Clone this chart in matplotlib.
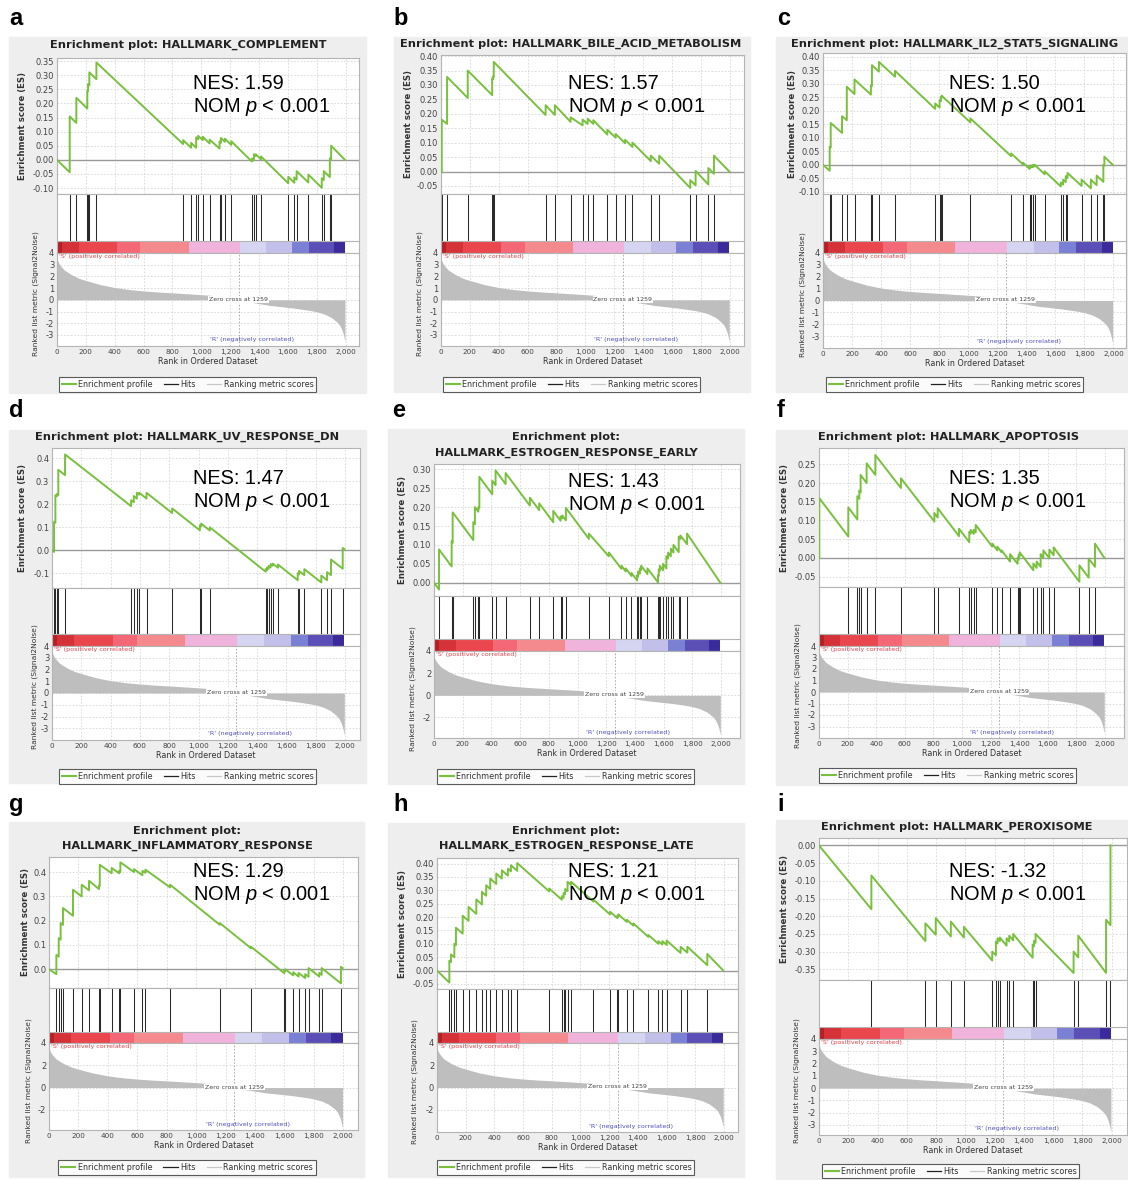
import numpy as np
import matplotlib
matplotlib.use("Agg")
import matplotlib.pyplot as plt
from matplotlib.lines import Line2D
from matplotlib.patches import Rectangle

plt.rcParams["font.family"] = ["DejaVu Sans"]
plt.rcParams["axes.unicode_minus"] = False
plt.rcParams["mathtext.fontset"] = "custom"
plt.rcParams["mathtext.rm"] = "Liberation Sans"
plt.rcParams["mathtext.it"] = "Liberation Sans:italic"

W, H = 1128, 1180

# ---- data ----
letters = ["a", "b", "c", "d", "e", "f", "g", "h", "i"]
gene_sets = ["HALLMARK_COMPLEMENT", "HALLMARK_BILE_ACID_METABOLISM",
             "HALLMARK_IL2_STAT5_SIGNALING", "HALLMARK_UV_RESPONSE_DN",
             "HALLMARK_ESTROGEN_RESPONSE_EARLY", "HALLMARK_APOPTOSIS",
             "HALLMARK_INFLAMMATORY_RESPONSE", "HALLMARK_ESTROGEN_RESPONSE_LATE",
             "HALLMARK_PEROXISOME"]
nes_values = ["1.59", "1.57", "1.50", "1.47", "1.43", "1.35", "1.29", "1.21", "-1.32"]

# ranked list metric (same ordered dataset in every panel)
metric_rank = [0, 10, 25, 50, 100, 150, 200, 300, 400, 500, 600, 700, 800, 900,
               1000, 1050, 1100, 1150, 1200, 1240, 1258, 1260, 1300, 1400, 1470,
               1550, 1650, 1750, 1800, 1850, 1900, 1940, 1960, 1975, 1985, 1995]
metric_val = [3.5, 3.2, 2.9, 2.55, 2.15, 1.85, 1.65, 1.3, 1.05, 0.88, 0.76, 0.67,
              0.6, 0.52, 0.44, 0.4, 0.35, 0.3, 0.22, 0.12, 0.02, -0.02, -0.12,
              -0.32, -0.47, -0.58, -0.72, -0.9, -1.02, -1.2, -1.5, -1.9, -2.2,
              -2.6, -3.0, -3.6]

# colour bar segments (rank boundaries)
cbar_edges = [0, 35, 150, 414, 578, 911, 1265, 1450, 1628, 1746, 1919, 1995]
cbar_colors = ["#b81f25", "#d43238", "#e9474d", "#f46777", "#f58a8e", "#efb3dc",
               "#d5d5f1", "#c3bfeb", "#7a80d3", "#5b4fb7", "#3a2a9c"]

hits_a = [88, 134, 210, 215, 224, 273, 874, 929, 964, 978, 1010, 1057, 1126, 1135,
          1163, 1207, 1350, 1364, 1376, 1413, 1602, 1644, 1660, 1741, 1834, 1848,
          1890, 1899]
es_a = [(0, 0), (88, -0.044), (88, 0.154), (134, 0.131), (134, 0.22), (210, 0.182),
        (210, 0.245), (215, 0.243), (215, 0.268), (224, 0.264), (224, 0.31),
        (273, 0.286), (273, 0.345), (874, 0.056), (874, 0.07), (929, 0.043),
        (929, 0.06), (964, 0.043), (964, 0.08), (978, 0.073), (978, 0.085),
        (1010, 0.07), (1010, 0.082), (1057, 0.058), (1057, 0.072), (1126, 0.04),
        (1126, 0.065), (1135, 0.06), (1135, 0.078), (1163, 0.064), (1163, 0.075),
        (1207, 0.053), (1207, 0.066), (1350, -0.006), (1350, 0.005), (1364, -0.002),
        (1364, 0.02), (1376, 0.014), (1376, 0.02), (1413, 0.002), (1413, 0.012),
        (1602, -0.083), (1602, -0.06), (1644, -0.081), (1644, -0.062), (1660, -0.07),
        (1660, -0.04), (1741, -0.08), (1741, -0.052), (1834, -0.099), (1834, -0.065),
        (1848, -0.072), (1848, -0.04), (1890, -0.061), (1890, 0.005), (1899, 0.0),
        (1899, 0.05), (1995, 0.0)]

hits_b = [5, 42, 185, 354, 361, 365, 724, 788, 897, 980, 1015, 1054, 1151, 1209,
          1274, 1325, 1452, 1510, 1725, 1762, 1850, 1889]
es_b = [(0, 0), (5, -0.002), (5, 0.18), (42, 0.165), (42, 0.328), (185, 0.255),
        (185, 0.35), (354, 0.265), (354, 0.323), (361, 0.32), (361, 0.33),
        (365, 0.328), (365, 0.38), (724, 0.196), (724, 0.23), (788, 0.196),
        (788, 0.23), (897, 0.172), (897, 0.188), (980, 0.16), (980, 0.18),
        (1015, 0.165), (1015, 0.183), (1054, 0.165), (1054, 0.178), (1151, 0.128),
        (1151, 0.145), (1209, 0.117), (1209, 0.13), (1274, 0.098), (1274, 0.11),
        (1325, 0.085), (1325, 0.1), (1452, 0.036), (1452, 0.055), (1510, 0.027),
        (1510, 0.055), (1725, -0.057), (1725, -0.03), (1762, -0.048), (1762, 0.002),
        (1850, -0.045), (1850, 0.012), (1889, -0.008), (1889, 0.055), (1995, 0.0)]

hits_c = [46, 53, 131, 164, 217, 330, 337, 385, 496, 773, 803, 812, 817, 1015, 1296,
          1377, 1423, 1432, 1446, 1458, 1527, 1638, 1654, 1672, 1684, 1781, 1845,
          1885, 1931, 1938]
es_c = [(0, 0), (46, -0.022), (46, 0.067), (53, 0.064), (53, 0.155), (131, 0.118),
        (131, 0.18), (164, 0.165), (164, 0.289), (217, 0.262), (217, 0.316),
        (330, 0.26), (330, 0.295), (337, 0.292), (337, 0.369), (385, 0.345),
        (385, 0.381), (496, 0.326), (496, 0.348), (773, 0.207), (773, 0.227),
        (803, 0.212), (803, 0.24), (812, 0.236), (812, 0.25), (817, 0.248),
        (817, 0.256), (1015, 0.157), (1015, 0.172), (1296, 0.032), (1296, 0.042),
        (1377, 0.002), (1377, 0.008), (1423, -0.015), (1423, -0.006), (1432, -0.01),
        (1432, -0.002), (1446, -0.009), (1446, 0.0), (1458, -0.006), (1458, 0.0),
        (1527, -0.035), (1527, -0.024), (1638, -0.08), (1638, -0.065), (1654, -0.073),
        (1654, -0.055), (1672, -0.064), (1672, -0.042), (1684, -0.048), (1684, -0.03),
        (1781, -0.078), (1781, -0.055), (1845, -0.087), (1845, -0.055), (1885, -0.075),
        (1885, -0.04), (1931, -0.063), (1931, 0.0), (1938, -0.003), (1938, 0.03),
        (1995, 0.0)]

hits_d = [14, 23, 34, 43, 89, 540, 558, 579, 595, 645, 820, 1009, 1018, 1077, 1458,
          1467, 1478, 1492, 1506, 1542, 1677, 1686, 1722, 1838, 1877, 1904, 1984]
es_d = [(0, 0), (14, -0.007), (14, 0.124), (23, 0.12), (23, 0.24), (34, 0.235),
        (34, 0.245), (43, 0.24), (43, 0.35), (89, 0.327), (89, 0.417), (540, 0.192),
        (540, 0.218), (558, 0.209), (558, 0.236), (579, 0.225), (579, 0.25),
        (595, 0.242), (595, 0.25), (645, 0.225), (645, 0.25), (820, 0.162),
        (820, 0.182), (1009, 0.087), (1009, 0.108), (1018, 0.104), (1018, 0.116),
        (1077, 0.086), (1077, 0.1), (1458, -0.093), (1458, -0.082), (1467, -0.087),
        (1467, -0.075), (1478, -0.081), (1478, -0.068), (1492, -0.075), (1492, -0.06),
        (1506, -0.067), (1506, -0.058), (1542, -0.076), (1542, -0.062), (1677, -0.13),
        (1677, -0.1), (1686, -0.105), (1686, -0.09), (1722, -0.108), (1722, -0.082),
        (1838, -0.14), (1838, -0.11), (1877, -0.13), (1877, -0.095), (1904, -0.108),
        (1904, -0.04), (1984, -0.08), (1984, 0.01), (1995, 0.005)]

hits_e = [35, 123, 130, 274, 285, 309, 316, 406, 429, 499, 668, 733, 831, 882, 893,
          919, 1079, 1218, 1306, 1336, 1376, 1415, 1422, 1434, 1443, 1487, 1561, 1566,
          1573, 1596, 1619, 1631, 1650, 1668, 1705, 1717, 1763]
es_e = [(0, 0), (35, -0.018), (35, 0.088), (123, 0.043), (123, 0.11), (130, 0.106),
        (130, 0.186), (274, 0.113), (274, 0.16), (285, 0.155), (285, 0.2),
        (309, 0.188), (309, 0.2), (316, 0.197), (316, 0.28), (406, 0.234),
        (406, 0.27), (429, 0.258), (429, 0.297), (499, 0.261), (499, 0.29),
        (668, 0.204), (668, 0.225), (733, 0.192), (733, 0.21), (831, 0.16),
        (831, 0.19), (882, 0.164), (882, 0.175), (893, 0.17), (893, 0.178),
        (919, 0.165), (919, 0.198), (1079, 0.116), (1079, 0.13), (1218, 0.07),
        (1218, 0.08), (1306, 0.037), (1306, 0.045), (1336, 0.03), (1336, 0.038),
        (1376, 0.018), (1376, 0.026), (1415, 0.006), (1415, 0.02), (1422, 0.016),
        (1422, 0.03), (1434, 0.024), (1434, 0.038), (1443, 0.033), (1443, 0.045),
        (1487, 0.023), (1487, 0.038), (1561, 0.001), (1561, 0.02), (1566, 0.018),
        (1566, 0.035), (1573, 0.031), (1573, 0.045), (1596, 0.033), (1596, 0.05),
        (1619, 0.038), (1619, 0.07), (1631, 0.064), (1631, 0.08), (1650, 0.07),
        (1650, 0.09), (1668, 0.08), (1668, 0.1), (1705, 0.081), (1705, 0.122),
        (1717, 0.116), (1717, 0.125), (1763, 0.102), (1763, 0.13), (1995, 0.0)]

hits_f = [2, 205, 268, 282, 291, 333, 394, 573, 807, 830, 979, 1051, 1061, 1082, 1096,
          1212, 1247, 1277, 1336, 1389, 1396, 1403, 1499, 1522, 1550, 1569, 1611, 1641,
          1821, 1886, 1930]
es_f = [(0, 0), (2, -0.001), (2, 0.16), (205, 0.057), (205, 0.135), (268, 0.103),
        (268, 0.165), (282, 0.158), (282, 0.18), (291, 0.175), (291, 0.222),
        (333, 0.2), (333, 0.253), (394, 0.222), (394, 0.275), (573, 0.187),
        (573, 0.213), (807, 0.097), (807, 0.12), (830, 0.108), (830, 0.133),
        (979, 0.058), (979, 0.078), (1051, 0.042), (1051, 0.07), (1061, 0.065),
        (1061, 0.075), (1082, 0.064), (1082, 0.075), (1096, 0.068), (1096, 0.088),
        (1212, 0.03), (1212, 0.038), (1247, 0.02), (1247, 0.03), (1277, 0.015),
        (1277, 0.02), (1336, -0.01), (1336, 0.01), (1389, -0.016), (1389, 0.0),
        (1396, -0.004), (1396, 0.008), (1403, 0.004), (1403, 0.015), (1499, -0.033),
        (1499, -0.015), (1522, -0.027), (1522, -0.01), (1550, -0.024), (1550, 0.01),
        (1569, 0.0), (1569, 0.02), (1611, -0.001), (1611, 0.022), (1641, 0.007),
        (1641, 0.028), (1821, -0.064), (1821, -0.02), (1886, -0.053), (1886, -0.002),
        (1930, -0.024), (1930, 0.038), (1995, 0.0)]

hits_g = [50, 66, 79, 95, 163, 222, 272, 340, 345, 426, 476, 485, 578, 635, 655, 823,
          1161, 1372, 1599, 1605, 1660, 1696, 1741, 1764, 1837, 1853, 1984]
es_g = [(0, 0), (50, -0.02), (50, 0.059), (66, 0.052), (66, 0.128), (79, 0.122),
        (79, 0.19), (95, 0.183), (95, 0.252), (163, 0.22), (163, 0.327), (222, 0.3),
        (222, 0.348), (272, 0.325), (272, 0.364), (340, 0.33), (340, 0.345),
        (345, 0.343), (345, 0.43), (426, 0.395), (426, 0.417), (476, 0.395),
        (476, 0.405), (485, 0.4), (485, 0.44), (578, 0.4), (578, 0.412), (635, 0.387),
        (635, 0.405), (655, 0.397), (655, 0.41), (823, 0.337), (823, 0.348),
        (1161, 0.183), (1161, 0.19), (1372, 0.087), (1372, 0.093), (1599, -0.016),
        (1599, -0.005), (1605, -0.008), (1605, 0.0), (1660, -0.025), (1660, -0.012),
        (1696, -0.03), (1696, -0.015), (1741, -0.036), (1741, -0.02), (1764, -0.031),
        (1764, 0.005), (1837, -0.03), (1837, -0.015), (1853, -0.023), (1853, 0.005),
        (1984, -0.058), (1984, 0.01), (1995, 0.005)]

hits_h = [86, 97, 121, 132, 179, 220, 274, 313, 343, 371, 413, 452, 494, 515, 559, 782,
          870, 882, 893, 910, 935, 1090, 1206, 1257, 1264, 1323, 1369, 1473, 1543, 1571,
          1601, 1698, 1745, 1884]
es_h = [(0, 0), (86, -0.045), (86, 0.037), (97, 0.032), (97, 0.06), (121, 0.05),
        (121, 0.1), (132, 0.095), (132, 0.16), (179, 0.138), (179, 0.205),
        (220, 0.186), (220, 0.238), (274, 0.212), (274, 0.266), (313, 0.247),
        (313, 0.294), (343, 0.28), (343, 0.319), (371, 0.305), (371, 0.344),
        (413, 0.324), (413, 0.363), (452, 0.344), (452, 0.375), (494, 0.355),
        (494, 0.381), (515, 0.371), (515, 0.394), (559, 0.373), (559, 0.402),
        (782, 0.296), (782, 0.307), (870, 0.265), (870, 0.278), (882, 0.272),
        (882, 0.29), (893, 0.285), (893, 0.305), (910, 0.297), (910, 0.332),
        (935, 0.32), (935, 0.332), (1090, 0.258), (1090, 0.265), (1206, 0.21),
        (1206, 0.22), (1257, 0.196), (1257, 0.205), (1264, 0.202), (1264, 0.21),
        (1323, 0.182), (1323, 0.19), (1369, 0.168), (1369, 0.176), (1473, 0.126),
        (1473, 0.133), (1543, 0.1), (1543, 0.11), (1571, 0.097), (1571, 0.11),
        (1601, 0.096), (1601, 0.112), (1698, 0.066), (1698, 0.089), (1745, 0.067),
        (1745, 0.089), (1884, 0.02), (1884, 0.062), (1995, 0.0)]

hits_i = [358, 727, 798, 901, 990, 1184, 1209, 1220, 1236, 1282, 1300, 1327, 1460,
          1469, 1480, 1740, 1772, 1962, 1992]
es_i = [(0, 0), (358, -0.18), (358, -0.085), (727, -0.27), (727, -0.22), (798, -0.252),
        (798, -0.205), (901, -0.257), (901, -0.215), (990, -0.26), (990, -0.23),
        (1184, -0.325), (1184, -0.3), (1209, -0.31), (1209, -0.272), (1220, -0.277),
        (1220, -0.262), (1236, -0.27), (1236, -0.26), (1282, -0.283), (1282, -0.262),
        (1300, -0.271), (1300, -0.255), (1327, -0.268), (1327, -0.25), (1460, -0.317),
        (1460, -0.28), (1469, -0.285), (1469, -0.27), (1480, -0.275), (1480, -0.25),
        (1740, -0.36), (1740, -0.3), (1772, -0.316), (1772, -0.255), (1962, -0.36),
        (1962, -0.21), (1992, -0.225), (1992, 0.0)]

all_hits = [hits_a, hits_b, hits_c, hits_d, hits_e, hits_f, hits_g, hits_h, hits_i]
all_es = [es_a, es_b, es_c, es_d, es_e, es_f, es_g, es_h, es_i]

# ES axis ticks: (first, last, step, decimals)
es_ticks = [(-0.10, 0.35, 0.05, 2), (-0.05, 0.40, 0.05, 2), (-0.10, 0.40, 0.05, 2),
            (-0.1, 0.4, 0.1, 1), (0.0, 0.30, 0.05, 2), (-0.05, 0.25, 0.05, 2),
            (0.0, 0.4, 0.1, 1), (-0.05, 0.40, 0.05, 2), (-0.35, 0.0, 0.05, 2)]
rank_tick_step = [1, 1, 1, 1, 2, 1, 2, 2, 1]

# ---- layout in pixels (x, y from top-left) ----
layout = [
    dict(box=(9, 37, 366, 393), ax=(57, 359), es=(58, 194), cb=(241, 253), rk=346,
         xmax=2092, eslim=(-0.121, 0.361), rklim=(-3.94, 4), title=[45], tx=188,
         nes=(193, 89), leg=(187.5, 384.5), esl=23, rkl=36, let=(9, 25)),
    dict(box=(394, 37, 750, 392), ax=(441, 744), es=(55, 194), cb=(241, 253), rk=346,
         xmax=2097, eslim=(-0.078, 0.404), rklim=(-3.94, 4), title=[44], tx=571,
         nes=(568, 89), leg=(571.7, 384.5), esl=408, rkl=420, let=(393, 25)),
    dict(box=(776, 37, 1128, 392), ax=(823, 1126), es=(53, 194), cb=(241, 253), rk=348,
         xmax=2087, eslim=(-0.108, 0.414), rklim=(-4.0, 4), title=[44], tx=955,
         nes=(949, 89), leg=(954.5, 384.5), esl=792, rkl=803, let=(777, 25)),
    dict(box=(9, 430, 366, 783), ax=(52, 360), es=(448, 588), cb=(634, 646), rk=740,
         xmax=2102, eslim=(-0.164, 0.445), rklim=(-4.0, 4), title=[437], tx=187.5,
         nes=(193, 484), leg=(187.5, 776.5), esl=23, rkl=35, let=(9, 417)),
    dict(box=(388, 429, 744, 784), ax=(434, 740), es=(464, 596), cb=(639, 651), rk=738,
         xmax=2132, eslim=(-0.035, 0.314), rklim=(-3.85, 4), title=[437, 453], tx=566,
         nes=(568, 487), leg=(565.5, 776.5), esl=402, rkl=413, let=(392, 417)),
    dict(box=(776, 430, 1128, 785), ax=(819, 1124), es=(448, 587), cb=(634, 646), rk=738,
         xmax=2133, eslim=(-0.078, 0.294), rklim=(-4.0, 4), title=[437], tx=948,
         nes=(949, 484), leg=(947.5, 775.5), esl=785, rkl=798, let=(777, 417)),
    dict(box=(9, 822, 364, 1177), ax=(49, 358), es=(857, 988), cb=(1032, 1043), rk=1130,
         xmax=2100, eslim=(-0.077, 0.462), rklim=(-3.81, 4), title=[831, 846], tx=187,
         nes=(193, 877), leg=(187, 1167.5), esl=26, rkl=29, let=(9, 811)),
    dict(box=(388, 823, 744, 1177), ax=(437, 738), es=(858, 989), cb=(1032, 1043), rk=1132,
         xmax=2098, eslim=(-0.069, 0.421), rklim=(-4.0, 4), title=[831, 846], tx=566,
         nes=(568, 877), leg=(565.5, 1167.5), esl=403, rkl=415, let=(393, 811)),
    dict(box=(776, 820, 1128, 1180), ax=(819, 1127), es=(838, 980), cb=(1027, 1039), rk=1135,
         xmax=2105, eslim=(-0.380, 0.021), rklim=(-3.82, 4), title=[827], tx=957,
         nes=(949, 877), leg=(950.5, 1171), esl=785, rkl=797, let=(777, 811)),
]

GREEN = "#78c03e"
GRID = dict(color="#d6d6d6", lw=0.6, ls=(0, (2, 2)))
SPINE = "#b4b4b4"


def to_fig(l, t, r, b):
    return [l / W, 1 - b / H, (r - l) / W, (b - t) / H]


def tick_label(v, dec):
    v = round(v, dec)
    if v == 0:
        v = 0.0
    return f"{v:.{dec}f}"


fig = plt.figure(figsize=(W / 100, H / 100), dpi=100)
xt = np.arange(0, 2001, 200)

for k in range(9):
    L = layout[k]
    l, r = L["ax"]
    bl, bt, br, bb = L["box"]
    # light grey panel background, behind the axes
    fig.patches.append(Rectangle((bl / W, 1 - bb / H), (br - bl) / W, (bb - bt) / H,
                                 transform=fig.transFigure, color="#eeeeee", zorder=-5))
    fig.text(L["let"][0] / W, 1 - L["let"][1] / H, letters[k], fontsize=17,
             fontweight="bold", family="Liberation Sans", va="baseline", ha="left")

    # title
    if len(L["title"]) == 1:
        lines = ["Enrichment plot: " + gene_sets[k]]
    else:
        lines = ["Enrichment plot:", gene_sets[k]]
    for y, txt in zip(L["title"], lines):
        fig.text(L["tx"] / W, 1 - y / H, txt, ha="center", va="center",
                 fontsize=8.2, fontweight="bold", color="#222222")

    ax_es = fig.add_axes(to_fig(l, L["es"][0], r, L["es"][1]))
    ax_hit = fig.add_axes(to_fig(l, L["es"][1], r, L["cb"][1]))
    ax_rk = fig.add_axes(to_fig(l, L["cb"][1], r, L["rk"]))
    for ax in (ax_es, ax_hit, ax_rk):
        ax.set_xlim(0, L["xmax"])
        for s in ax.spines.values():
            s.set_color(SPINE)
            s.set_linewidth(0.8)
        ax.tick_params(length=0, labelsize=6, labelcolor="#444444", pad=2)

    # enrichment score
    lo, hi, step, dec = es_ticks[k]
    yt = np.arange(lo, hi + step / 2, step)
    ax_es.set_ylim(L["eslim"])
    ax_es.set_yticks(yt)
    ax_es.set_yticklabels([tick_label(v, dec) for v in yt])
    ax_es.set_xticks(xt)
    ax_es.tick_params(labelbottom=False)
    ax_es.grid(True, **GRID)
    ax_es.axhline(0, color="#9a9a9a", lw=1.0, zorder=2)
    ex, ey = zip(*all_es[k])
    ax_es.plot(ex, ey, color=GREEN, lw=1.4, zorder=3)

    # hits + colour bar
    frac = (L["cb"][1] - L["cb"][0]) / (L["cb"][1] - L["es"][1])
    ax_hit.set_ylim(0, 1)
    ax_hit.set_xticks([])
    ax_hit.set_yticks([])
    ax_hit.vlines(all_hits[k], frac, 1, colors="#2a2a2a", lw=0.75)
    ax_hit.broken_barh(list(zip(cbar_edges[:-1], np.diff(cbar_edges))), (0, frac),
                       facecolors=cbar_colors, lw=0)
    ax_hit.axhline(frac, color=SPINE, lw=0.8)

    # ranked list metric
    ax_rk.fill_between(metric_rank, metric_val, 0, color="#bebebe", lw=0, zorder=2)
    ax_rk.set_ylim(L["rklim"])
    st = rank_tick_step[k]
    ax_rk.set_yticks(np.arange(-3 if st == 1 else -2, 4.5, st))
    ax_rk.set_xticks(xt)
    ax_rk.set_xticklabels([f"{v:,}" for v in xt], fontsize=5.2)
    ax_rk.grid(True, **GRID)
    ax_rk.axvline(1259, color="#a0a0a0", lw=0.6, ls=(0, (2, 2)), zorder=1)
    ax_rk.text(1259, 0.05, "Zero cross at 1259", ha="center", va="center", fontsize=4.5,
               color="#444444", zorder=4,
               bbox=dict(facecolor="white", edgecolor="none", pad=0.6))
    ax_rk.text(12, 0.985, "'S' (positively correlated)", transform=ax_rk.get_xaxis_transform(),
               ha="left", va="top", fontsize=4.6, color="#e0404c", zorder=4)
    ax_rk.text(1350, 0.065, "'R' (negatively correlated)", transform=ax_rk.get_xaxis_transform(),
               ha="center", va="center", fontsize=4.6, color="#5050c0", zorder=4)
    ax_rk.set_xlabel("Rank in Ordered Dataset", fontsize=5.8, color="#333333", labelpad=1.5)

    # y labels
    fig.text(L["esl"] / W, 1 - (L["es"][0] + L["es"][1]) / 2 / H, "Enrichment score (ES)",
             rotation=90, ha="center", va="center", fontsize=6.2, fontweight="bold",
             color="#333333")
    fig.text(L["rkl"] / W, 1 - (L["cb"][0] + L["rk"]) / 2 / H,
             "Ranked list metric (Signal2Noise)", rotation=90, ha="center", va="center",
             fontsize=5.4, color="#333333")

    # NES annotation
    nx, ny = L["nes"]
    fig.text(nx / W, 1 - ny / H, "NES: " + nes_values[k], fontsize=14.4,
             family="Liberation Sans", va="baseline", ha="left", zorder=5)
    fig.text(nx / W, 1 - (ny + 23) / H, r"NOM $\mathit{p}$ < 0.001", fontsize=14.4,
             family="Liberation Sans", va="baseline", ha="left", zorder=5)

    # legend
    handles = [Line2D([], [], color=GREEN, lw=1.5), Line2D([], [], color="#222222", lw=0.9),
               Line2D([], [], color="#c8c8c8", lw=0.9)]
    leg = fig.legend(handles, ["Enrichment profile", "Hits", "Ranking metric scores"],
                     loc="center", bbox_to_anchor=(L["leg"][0] / W, 1 - L["leg"][1] / H),
                     ncol=3, fontsize=5.8, frameon=True, fancybox=False, edgecolor="#333333",
                     borderpad=0.35, handlelength=1.75, handletextpad=0.3, columnspacing=1.4,
                     borderaxespad=0)
    leg.get_frame().set_linewidth(0.8)
    for t in leg.get_texts():
        t.set_color("#333333")

fig.savefig("out.png", dpi=100, facecolor="white")
